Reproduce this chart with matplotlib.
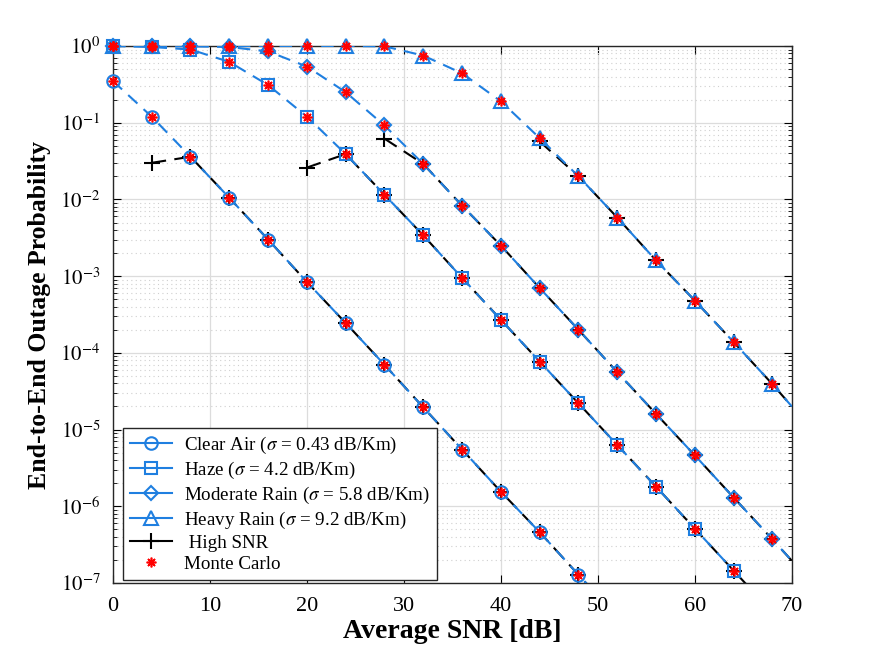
import numpy as np
import matplotlib
matplotlib.use('Agg')
from matplotlib import pyplot as plt

plt.rcParams['font.family'] = ['Liberation Serif', 'DejaVu Serif']
plt.rcParams['mathtext.fontset'] = 'stix'

# SNR grid (dB), markers every 4 dB
snr = [0, 4, 8, 12, 16, 20, 24, 28, 32, 36, 40, 44, 48, 52, 56, 60, 64, 68, 70]

# exact outage probability
clear_air = [0.35, 0.12, 0.036, 0.0105, 0.0030, 8.4e-4, 2.45e-4, 7.0e-5, 1.95e-5, 5.5e-6, 1.55e-6, 4.6e-7, 1.28e-7, 3.6e-8]
haze = [1.0, 0.97, 0.9, 0.62, 0.31, 0.12, 0.039, 0.0115, 0.0034, 9.5e-4, 2.7e-4, 7.7e-5, 2.2e-5, 6.3e-6, 1.8e-6, 5.1e-7, 1.45e-7, 4.1e-8]
mod_rain = [1.0, 1.0, 0.99, 0.97, 0.85, 0.54, 0.25, 0.092, 0.029, 0.0083, 0.0025, 7.0e-4, 2.0e-4, 5.6e-5, 1.6e-5, 4.6e-6, 1.3e-6, 3.7e-7, 1.95e-7]
heavy_rain = [1.0, 1.0, 1.0, 1.0, 1.0, 1.0, 1.0, 0.99, 0.75, 0.44, 0.19, 0.063, 0.020, 0.0058, 0.0016, 4.8e-4, 1.38e-4, 3.9e-5, 2.0e-5]

# high-SNR asymptotes, starting at the given SNR
hs_clear = [0.030, 0.036, 0.0105, 0.0030, 8.4e-4, 2.45e-4, 7.0e-5, 1.95e-5, 5.5e-6, 1.55e-6, 4.6e-7, 1.28e-7, 3.6e-8]
hs_haze = [0.026, 0.039, 0.0115, 0.0034, 9.5e-4, 2.7e-4, 7.7e-5, 2.2e-5, 6.3e-6, 1.8e-6, 5.1e-7, 1.45e-7, 4.1e-8]
hs_mod = [0.062, 0.029, 0.0083, 0.0025, 7.0e-4, 2.0e-4, 5.6e-5, 1.6e-5, 4.6e-6, 1.3e-6, 3.7e-7, 1.95e-7]
hs_heavy = [0.057, 0.020, 0.0058, 0.0016, 4.8e-4, 1.38e-4, 3.9e-5, 2.0e-5]

ytick_exp = [-7, -6, -5, -4, -3, -2, -1, 0]

blue = '#1f7fe0'
ymin, ymax = 1e-7, 1.0

fig = plt.figure(figsize=(8.75, 6.57), dpi=100)
ax = fig.add_axes([0.129, 0.1126, 0.776, 0.8174])


def on_grid(x, vals):
    # points on the 4 dB marker grid that fall inside the axes
    pts = [(s, v) for s, v in zip(x, vals) if s % 4 == 0 and ymin * 0.9 <= v <= ymax * 1.01]
    return [p[0] for p in pts], [p[1] for p in pts]


curves = [
    (clear_air, 'o', 9, r'Clear Air ($\sigma$ = 0.43 dB/Km)'),
    (haze, 's', 8.5, r'Haze ($\sigma$ = 4.2 dB/Km)'),
    (mod_rain, 'D', 7, r'Moderate Rain ($\sigma$ = 5.8 dB/Km)'),
    (heavy_rain, '^', 9.5, r'Heavy Rain ($\sigma$ = 9.2 dB/Km)'),
]
handles = []
for vals, mk, ms, lab in curves:
    x = snr[:len(vals)]
    ax.semilogy(x, vals, color=blue, lw=1.5, dashes=(6, 4), zorder=3)
    mx, my = on_grid(x, vals)
    ax.semilogy(mx, my, ls='none', marker=mk, ms=ms, mfc='none', mec=blue,
                mew=1.5, clip_on=False, zorder=3)
    h, = ax.plot([], [], color=blue, lw=1.5, marker=mk, ms=ms,
                 mfc='none', mec=blue, mew=1.5, label=lab)
    handles.append(h)

# high-SNR asymptotes
for start, vals in [(4, hs_clear), (20, hs_haze), (28, hs_mod), (44, hs_heavy)]:
    i0 = snr.index(start)
    x = snr[i0:i0 + len(vals)]
    mev = [i for i in range(len(vals)) if x[i] % 4 == 0]
    ax.semilogy(x, vals, color='k', lw=1.5, dashes=(7, 4),
                marker='+', ms=11, mew=1.5, markevery=mev, zorder=2)
h, = ax.plot([], [], color='k', lw=1.5, marker='+', ms=11, mew=1.5, label=' High SNR')
handles.append(h)

# Monte Carlo points
for vals in [clear_air, haze, mod_rain, heavy_rain]:
    mx, my = on_grid(snr[:len(vals)], vals)
    ax.semilogy(mx, my, ls='none', marker=(8, 2, 0), ms=7, mew=1.2,
                color='red', clip_on=False, zorder=4)
h, = ax.plot([], [], ls='none', marker=(8, 2, 0), ms=7, mew=1.2, color='red',
             label='Monte Carlo')
handles.append(h)

ax.set_xlim(0, 70)
ax.set_ylim(ymin, ymax)
ax.set_xticks(range(0, 71, 10))
ax.set_yticks([10.0 ** e for e in ytick_exp])
ax.set_yticklabels([r'$10^{%d}$' % e for e in ytick_exp])
minor = [m * 10.0 ** e for e in ytick_exp[:-1] for m in range(2, 10)]
ax.set_yticks(minor, minor=True)
ax.set_yticklabels([], minor=True)
ax.grid(True, which='major', color='#dcdcdc', lw=0.9)
ax.grid(True, which='minor', axis='y', color='#cfcfcf', lw=0.8, ls=(0, (1, 3)))
ax.set_axisbelow(True)
ax.tick_params(which='both', direction='in', top=True, right=True)
ax.tick_params(axis='x', labelsize=16, pad=10)
ax.tick_params(axis='y', labelsize=15, pad=9)
ax.tick_params(which='major', length=6)
ax.tick_params(which='minor', length=3)
for sp in ax.spines.values():
    sp.set_color('#262626')
    sp.set_linewidth(1.0)

ax.set_xlabel('Average SNR [dB]', fontsize=20, fontweight='bold', labelpad=2)
ax.set_ylabel('End-to-End Outage Probability', fontsize=18.5, fontweight='bold', labelpad=7)

leg = ax.legend(handles=handles, loc='lower left', bbox_to_anchor=(0.015, 0.006),
                fontsize=13.7, frameon=True, fancybox=False, edgecolor='#262626',
                framealpha=1, borderaxespad=0, handlelength=2.2, handletextpad=0.65,
                labelspacing=0.2, borderpad=0.35)
leg.get_frame().set_linewidth(1.0)

plt.savefig('out.png', dpi=100)
